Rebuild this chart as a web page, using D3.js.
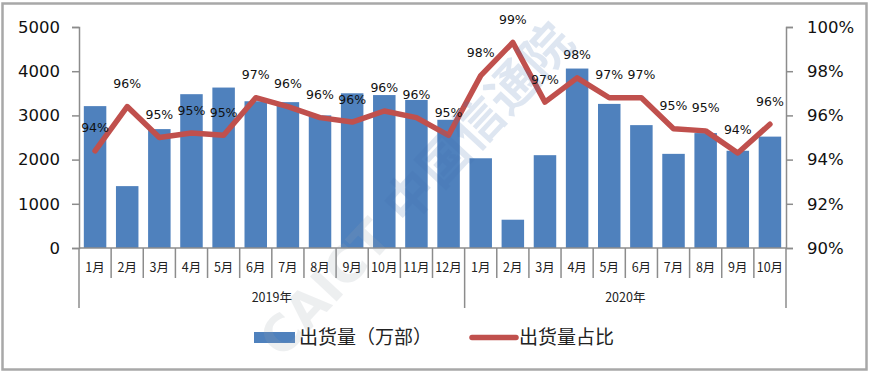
<!DOCTYPE html>
<html>
<head>
<meta charset="utf-8">
<script src="https://cdn.jsdelivr.net/npm/d3@7"></script>
<style>
  body { margin: 0; background: #fff; }
  svg { display: block; }
</style>
</head>
<body>
<div id="chart"></div>
<script>
// data
var months = ["1月","2月","3月","4月","5月","6月","7月","8月","9月","10月","11月","12月",
              "1月","2月","3月","4月","5月","6月","7月","8月","9月","10月"];
var yearLabels = ["2019年", "2020年"];
var yearCounts = [12, 10];
var shipments = [3210,1400,2690,3480,3630,3320,3300,3000,3500,3460,3350,2900,
                 2030,640,2100,4060,3260,2780,2130,2600,2200,2520];
var share = [94.4,96.4,95.0,95.2,95.1,96.8,96.4,95.9,95.7,96.2,95.9,95.1,
             97.8,99.3,96.6,97.7,96.8,96.8,95.4,95.3,94.3,95.6];
var shareLabels = ["94%","96%","95%","95%","95%","97%","96%","96%","96%","96%","96%","95%",
                   "98%","99%","97%","98%","97%","97%","95%","95%","94%","96%"];
var leftTicks = [0,1000,2000,3000,4000,5000];
var rightTicks = [90,92,94,96,98,100];
var legendNames = ["出货量（万部）", "出货量占比"];

////////////////////////////////////////////////////////////
//////////////////////// Set-Up ////////////////////////////
////////////////////////////////////////////////////////////
var W = 870, H = 374;
var plotL = 79, plotR = 786, plotT = 27, plotB = 248;
var blue = "#4f81bd", red = "#c0504d", axisCol = "#8c8c8c";

var svg = d3.select("#chart").append("svg")
  .attr("width", W).attr("height", H);

// outer frame
svg.append("rect")
  .attr("x", 2.5).attr("y", 3.5).attr("width", 864).attr("height", 366)
  .attr("fill", "#fff").attr("stroke", "#a8a8a8").attr("stroke-width", 2.5);

var idx = d3.range(months.length);
var x = d3.scaleBand().domain(idx).range([plotL, plotR])
  .paddingInner(0.3).paddingOuter(0.15);
var step = x.step();
var yL = d3.scaleLinear().domain([0, 5000]).range([plotB, plotT]);
var yR = d3.scaleLinear().domain([90, 100]).range([plotB, plotT]);

////////////////////////////////////////////////////////////
/////////////////////// Bars & line ////////////////////////
////////////////////////////////////////////////////////////
svg.selectAll("rect.bar")
  .data(idx).enter().append("rect")
  .attr("class", "bar")
  .attr("x", function(i) { return x(i); })
  .attr("width", x.bandwidth())
  .attr("y", function(i) { return yL(shipments[i]); })
  .attr("height", function(i) { return plotB - yL(shipments[i]); })
  .attr("fill", blue);

var line = d3.line()
  .x(function(i) { return x(i) + x.bandwidth() / 2; })
  .y(function(i) { return yR(share[i]); });

svg.append("path")
  .datum(idx)
  .attr("d", line)
  .attr("fill", "none")
  .attr("stroke", red)
  .attr("stroke-width", 5.5)
  .attr("stroke-linejoin", "round")
  .attr("stroke-linecap", "round");

svg.selectAll("text.lbl")
  .data(idx).enter().append("text")
  .attr("class", "lbl")
  .attr("x", function(i) { return x(i) + x.bandwidth() / 2; })
  .attr("y", function(i) { return yR(share[i]) - 18.5; })
  .attr("text-anchor", "middle")
  .style("font-family", "'DejaVu Sans'")
  .style("font-size", "12.5px")
  .attr("fill", "#111")
  .text(function(i) { return shareLabels[i]; });

////////////////////////////////////////////////////////////
///////////////////////// Axes /////////////////////////////
////////////////////////////////////////////////////////////
var axL = svg.append("g").attr("transform", "translate(" + plotL + ",0)")
  .call(d3.axisLeft(yL).tickValues(leftTicks).tickSize(7).tickPadding(12)
    .tickFormat(d3.format("d")));
var axR = svg.append("g").attr("transform", "translate(" + plotR + ",0)")
  .call(d3.axisRight(yR).tickValues(rightTicks).tickSize(7).tickPadding(14)
    .tickFormat(function(d) { return d + "%"; }));
[axL, axR].forEach(function(ax) {
  ax.select(".domain").attr("stroke", axisCol).attr("stroke-width", 1.5);
  ax.selectAll(".tick line").attr("stroke", axisCol).attr("stroke-width", 1.5);
  ax.selectAll("text").style("font-family", "'DejaVu Sans'")
    .style("font-size", "16.5px").attr("fill", "#111");
});

// x axis: baseline, month cells, year groups
var xa = svg.append("g");
xa.append("line").attr("x1", plotL).attr("x2", plotR)
  .attr("y1", plotB).attr("y2", plotB)
  .attr("stroke", axisCol).attr("stroke-width", 1.5);

var starts = [0];
yearCounts.forEach(function(n, k) { starts.push(starts[k] + n); });

xa.selectAll("line.sep")
  .data(d3.range(months.length + 1)).enter().append("line")
  .attr("class", "sep")
  .attr("x1", function(i) { return plotL + i * step; })
  .attr("x2", function(i) { return plotL + i * step; })
  .attr("y1", plotB)
  .attr("y2", function(i) { return starts.indexOf(i) >= 0 ? 308 : 278; })
  .attr("stroke", axisCol).attr("stroke-width", 1.5);

xa.selectAll("text.month")
  .data(idx).enter().append("text")
  .attr("class", "month")
  .attr("x", function(i) { return x(i) + x.bandwidth() / 2; })
  .attr("y", 272)
  .attr("text-anchor", "middle")
  .style("font-family", "'Noto Sans CJK SC'")
  .style("font-size", "12.5px")
  .attr("fill", "#222")
  .text(function(i) { return months[i]; });

xa.selectAll("text.year")
  .data(yearLabels).enter().append("text")
  .attr("class", "year")
  .attr("x", function(d, k) { return plotL + (starts[k] + yearCounts[k] / 2) * step; })
  .attr("y", 302)
  .attr("text-anchor", "middle")
  .style("font-family", "'Noto Sans CJK SC'")
  .style("font-size", "12.5px")
  .attr("fill", "#222")
  .text(function(d) { return d; });

////////////////////////////////////////////////////////////
//////////////////////// Legend ////////////////////////////
////////////////////////////////////////////////////////////
var lg = svg.append("g").style("font-family", "'Noto Sans CJK SC'")
  .style("font-size", "19px").attr("fill", "#222");
lg.append("rect").attr("x", 254).attr("y", 332).attr("width", 41).attr("height", 11)
  .attr("fill", blue);
lg.append("text").attr("x", 299).attr("y", 344).text(legendNames[0]);
lg.append("line").attr("x1", 472).attr("x2", 516).attr("y1", 337.5).attr("y2", 337.5)
  .attr("stroke", red).attr("stroke-width", 5.5).attr("stroke-linecap", "round");
lg.append("text").attr("x", 519).attr("y", 344).text(legendNames[1]);

// watermark, laid over the chart
var wm = svg.append("g")
  .attr("transform", "translate(282,360) rotate(-47)")
  .attr("opacity", 0.17)
  .style("pointer-events", "none");
wm.append("text").attr("x", 0).attr("y", 0)
  .style("font-family", "DejaVu Sans").style("font-weight", "bold")
  .style("font-size", "50px").attr("fill", "#9aa3ad").text("CAICT");
wm.append("text").attr("x", 182).attr("y", 0)
  .style("font-family", "'Noto Sans CJK SC'").style("font-weight", "bold")
  .style("font-size", "50px").attr("fill", "#3f6fb0").text("中国信通院");
</script>
</body>
</html>
